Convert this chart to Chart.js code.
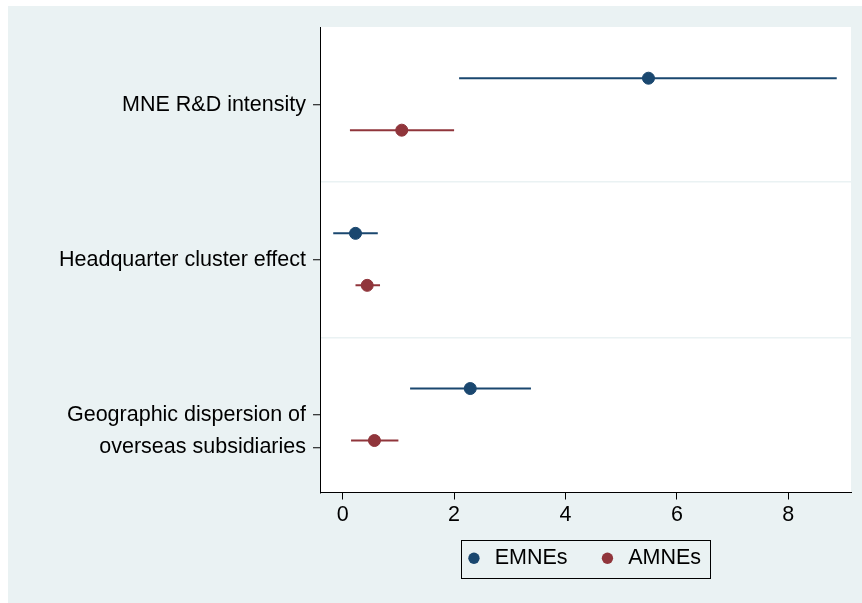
<!DOCTYPE html>
<html>
<head>
<meta charset="utf-8">
<script src="https://cdn.jsdelivr.net/npm/chart.js@4"></script>
<style>
  html, body { margin: 0; padding: 0; background: #fff; }
  #wrap { position: absolute; left: 8px; top: 6px; width: 854px; height: 597px; background: #EAF2F3; }
</style>
</head>
<body>
<div id="wrap"><canvas id="coefChart" width="854" height="597"></canvas></div>
<script>
// coefficient plot, EMNEs vs AMNEs

const categories = ['MNE R&D intensity', 'Headquarter cluster effect', ['Geographic dispersion of', 'overseas subsidiaries']];
const seriesNames = ['EMNEs', 'AMNEs'];

const emneCoef = [5.49, 0.23, 2.29];
const emneLo = [2.09, -0.17, 1.21];
const emneHi = [8.87, 0.63, 3.38];

const amneCoef = [1.06, 0.44, 0.57];
const amneLo = [0.13, 0.23, 0.15];
const amneHi = [2.00, 0.67, 1.00];

const xTicks = [0, 2, 4, 6, 8];

const NAVY = '#1A476F';
const MAROON = '#90353B';
const FONT = 'Liberation Sans, Arial, Helvetica, sans-serif';
const FS = 21.5;

// offsets inside each category band
const OFF = [0.33, 0.665];

// y tick list: label lines + band separators
const yTickLabels = {};
categories.forEach((c, i) => {
  const lines = Array.isArray(c) ? c : [c];
  lines.forEach((t, j) => { yTickLabels[(i + 0.5 + j * 0.21).toFixed(2)] = t; });
});
const yTickVals = Object.keys(yTickLabels).map(Number).concat([1, 2]).sort((a, b) => a - b);
const isSep = v => Number.isInteger(v);

const datasets = [];
[[emneCoef, emneLo, emneHi, NAVY], [amneCoef, amneLo, amneHi, MAROON]].forEach(([coef, lo, hi, col], s) => {
  datasets.push({
    label: seriesNames[s],
    data: coef.map((v, i) => ({ x: v, y: i + OFF[s] })),
    backgroundColor: col,
    borderColor: col,
    pointRadius: 6,
    pointHoverRadius: 6,
    order: 0
  });
  coef.forEach((v, i) => {
    datasets.push({
      label: 'ci',
      type: 'line',
      data: [{ x: lo[i], y: i + OFF[s] }, { x: hi[i], y: i + OFF[s] }],
      borderColor: col,
      borderWidth: 2,
      pointRadius: 0,
      fill: false,
      order: 1
    });
  });
});

const plotBg = {
  id: 'plotBg',
  beforeDraw(chart) {
    const a = chart.chartArea, ctx = chart.ctx;
    ctx.save();
    ctx.fillStyle = '#fff';
    ctx.fillRect(a.left, a.top, a.right - a.left, a.bottom - a.top);
    ctx.restore();
  }
};

const legendBox = {
  id: 'legendBox',
  afterDraw(chart) {
    const hb = chart.legend.legendHitBoxes;
    if (!hb || !hb.length) return;
    const last = hb[hb.length - 1];
    const l = hb[0].left - 9, r = last.left + last.width + 9;
    const t = hb[0].top - 8, b = hb[0].top + hb[0].height + 8;
    const ctx = chart.ctx;
    ctx.save();
    ctx.strokeStyle = '#000';
    ctx.lineWidth = 1;
    ctx.strokeRect(Math.round(l) + 0.5, Math.round(t) + 0.5, Math.round(r - l), Math.round(b - t));
    ctx.restore();
  }
};

new Chart(document.getElementById('coefChart'), {
  type: 'scatter',
  data: { datasets: datasets },
  options: {
    responsive: false,
    devicePixelRatio: 1,
    animation: false,
    layout: { padding: { left: 0, top: 21, right: 11, bottom: 24 } },
    plugins: {
      tooltip: { enabled: false },
      legend: {
        position: 'bottom',
        fullSize: false,
        maxHeight: 60,
        labels: {
          usePointStyle: true,
          pointStyle: 'circle',
          boxWidth: 8,
          boxHeight: 8,
          padding: 18,
          color: '#000',
          font: { family: FONT, size: FS },
          generateLabels: chart => {
            const items = Chart.defaults.plugins.legend.labels.generateLabels(chart)
              .filter(it => seriesNames.includes(it.text));
            return items.map((it, i) => Object.assign(it, {
              text: ' ' + it.text + (i < items.length - 1 ? '   ' : ''),
              lineWidth: 0
            }));
          }
        }
      }
    },
    scales: {
      x: {
        type: 'linear',
        min: -0.4075,
        max: 9.126,
        afterBuildTicks: s => { s.ticks = xTicks.map(v => ({ value: v })); },
        afterFit: s => { s.height = 37; },
        grid: { drawOnChartArea: false, tickLength: 7, tickColor: '#000', tickWidth: 1 },
        border: { color: '#000', width: 1 },
        ticks: { color: '#000', padding: 3, font: { family: FONT, size: FS }, maxRotation: 0 }
      },
      y: {
        type: 'linear',
        reverse: true,
        min: 0,
        max: 3,
        afterBuildTicks: s => { s.ticks = yTickVals.map(v => ({ value: v })); },
        afterFit: s => { s.width = 312; },
        grid: {
          drawOnChartArea: true,
          tickLength: 7,
          lineWidth: 1.5,
          color: c => (c.tick && isSep(c.tick.value)) ? '#EAF2F3' : 'rgba(0,0,0,0)',
          tickColor: c => (c.tick && isSep(c.tick.value)) ? 'rgba(0,0,0,0)' : '#000',
          tickWidth: 1
        },
        border: { color: '#000', width: 1 },
        ticks: {
          color: '#000',
          padding: 7,
          font: { family: FONT, size: FS },
          callback: v => isSep(v) ? '' : (yTickLabels[Number(v).toFixed(2)] || '')
        }
      }
    }
  },
  plugins: [plotBg, legendBox]
});
</script>
</body>
</html>
